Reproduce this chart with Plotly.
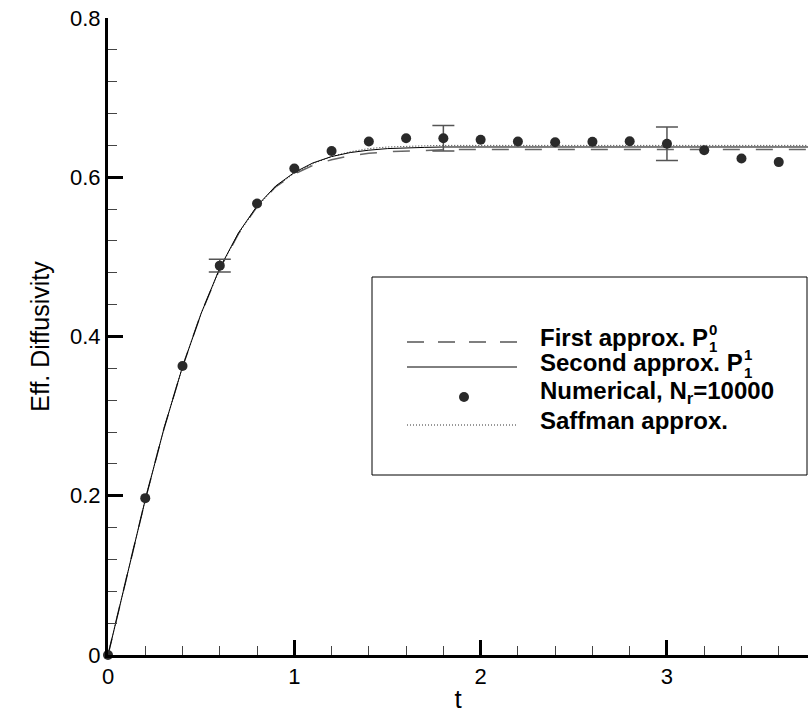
import plotly.graph_objects as go

# ---------------- data ----------------
t_curve = [0.0, 0.1, 0.2, 0.3, 0.4, 0.5, 0.6, 0.7, 0.8, 0.9, 1.0,
           1.1, 1.2, 1.3, 1.4, 1.5, 1.6, 1.7, 1.8, 2.0, 2.5, 3.0, 3.5, 3.76]
first_approx = [0.0, 0.099, 0.195, 0.284, 0.362, 0.429, 0.485, 0.529, 0.563, 0.588, 0.604,
                0.615, 0.622, 0.627, 0.630, 0.632, 0.633, 0.634, 0.6345, 0.635, 0.635, 0.635, 0.635, 0.635]
second_approx = [0.0, 0.099, 0.195, 0.284, 0.362, 0.429, 0.486, 0.530, 0.564, 0.589, 0.606,
                 0.618, 0.626, 0.631, 0.634, 0.636, 0.637, 0.6375, 0.638, 0.638, 0.638, 0.638, 0.638, 0.638]
saffman = [0.0, 0.099, 0.195, 0.284, 0.362, 0.429, 0.485, 0.529, 0.563, 0.588, 0.605,
           0.617, 0.626, 0.632, 0.636, 0.638, 0.639, 0.6395, 0.640, 0.640, 0.640, 0.640, 0.640, 0.640]

t_num = [0.0, 0.2, 0.4, 0.6, 0.8, 1.0, 1.2, 1.4, 1.6, 1.8, 2.0, 2.2, 2.4, 2.6, 2.8, 3.0, 3.2, 3.4, 3.6]
numerical = [0.0, 0.197, 0.363, 0.489, 0.567, 0.611, 0.633, 0.645, 0.649, 0.649, 0.647,
             0.645, 0.644, 0.6445, 0.6453, 0.642, 0.634, 0.6235, 0.619]

t_err = [0.6, 1.8, 3.0]
num_err = [0.489, 0.649, 0.642]
err_half = [0.008, 0.016, 0.021]

x_ticks = [0, 1, 2, 3]
y_ticks = [0, 0.2, 0.4, 0.6, 0.8]
y_tick_text = ["0", "0.2", "0.4", "0.6", "0.8"]

legend_labels = ["First approx. P", "Second approx. P", "Numerical, N<sub>r</sub>=10000", "Saffman approx."]
legend_sup = ["0", "1"]
legend_sub = ["1", "1"]

# ---------------- layout geometry ----------------
W, H = 810, 715
ML, MR, MT, MB = 108, 2, 18, 60
PW, PH = W - ML - MR, H - MT - MB


def px(xp):
    return (xp - ML) / PW


def py(yp):
    return (H - MB - yp) / PH


FONT = "Liberation Sans, Arial, sans-serif"

fig = go.Figure()

fig.add_trace(go.Scatter(x=t_curve, y=first_approx, mode="lines",
                         line=dict(color="#666666", width=1.5, dash="17px,16px"),
                         showlegend=False))
fig.add_trace(go.Scatter(x=t_curve, y=saffman, mode="lines",
                         line=dict(color="#333333", width=1, dash="1px,2px"),
                         showlegend=False))
fig.add_trace(go.Scatter(x=t_curve, y=second_approx, mode="lines",
                         line=dict(color="black", width=1),
                         showlegend=False))
fig.add_trace(go.Scatter(x=t_err, y=num_err, mode="markers",
                         marker=dict(size=0.1, color="rgba(0,0,0,0)"),
                         error_y=dict(type="data", array=err_half, visible=True,
                                      color="#555555", thickness=1.5, width=11),
                         showlegend=False))
fig.add_trace(go.Scatter(x=t_num, y=numerical, mode="markers",
                         marker=dict(size=10, color="#2a2a2a"),
                         showlegend=False, cliponaxis=False))

# ---------------- custom legend ----------------
box = dict(x0=372, x1=807, y0=277, y1=475)
fig.add_shape(type="rect", xref="paper", yref="paper",
              x0=px(box["x0"]), x1=px(box["x1"]), y0=py(box["y1"]), y1=py(box["y0"]),
              line=dict(color="black", width=1), fillcolor="white", layer="above")

rows = [342, 367, 397, 425]
sx0, sx1, sxc = 407, 517, 464
fig.add_shape(type="line", xref="paper", yref="paper", x0=px(sx0), x1=px(sx1),
              y0=py(rows[0]), y1=py(rows[0]), line=dict(color="#555555", width=1.5, dash="17px,14px"),
              layer="above")
fig.add_shape(type="line", xref="paper", yref="paper", x0=px(sx0), x1=px(sx1),
              y0=py(rows[1]), y1=py(rows[1]), line=dict(color="black", width=1), layer="above")
fig.add_shape(type="circle", xref="paper", yref="paper", x0=px(sxc - 5), x1=px(sxc + 5),
              y0=py(rows[2] + 5), y1=py(rows[2] - 5), line=dict(width=0), fillcolor="#2a2a2a",
              layer="above")
fig.add_shape(type="line", xref="paper", yref="paper", x0=px(sx0), x1=px(sx1),
              y0=py(rows[3]), y1=py(rows[3]), line=dict(color="#333333", width=1, dash="1px,2px"),
              layer="above")

text_x = 538
text_dy = -5
for lab, r in zip(legend_labels, rows):
    fig.add_annotation(x=px(text_x), y=py(r + text_dy), xref="paper", yref="paper",
                       text=lab, showarrow=False, xanchor="left", yanchor="middle",
                       font=dict(family=FONT, size=24, color="black", weight="bold"))

script_x = [707, 742]
for i in range(2):
    fig.add_annotation(x=px(script_x[i]), y=py(rows[i] - 13), xref="paper", yref="paper",
                       text=legend_sup[i], showarrow=False, xanchor="left", yanchor="middle",
                       font=dict(family=FONT, size=15, color="black", weight="bold"))
    fig.add_annotation(x=px(script_x[i]), y=py(rows[i] + 5), xref="paper", yref="paper",
                       text=legend_sub[i], showarrow=False, xanchor="left", yanchor="middle",
                       font=dict(family=FONT, size=15, color="black", weight="bold"))

axis_common = dict(showline=True, linecolor="black", linewidth=3, mirror=False,
                   showgrid=False, zeroline=False, ticks="inside", ticklen=15, tickwidth=3,
                   tickcolor="black", tickfont=dict(family=FONT, size=22, color="black"))

fig.update_xaxes(range=[0, 3.757], tickvals=x_ticks,
                 minor=dict(ticks="inside", ticklen=9, tickwidth=1, tickcolor="#444444", dtick=0.2,
                            showgrid=False),
                 title=dict(text="t", font=dict(family=FONT, size=26, color="black"), standoff=2),
                 **axis_common)
fig.update_yaxes(range=[0, 0.8], tickvals=y_ticks, ticktext=y_tick_text,
                 minor=dict(ticks="inside", ticklen=9, tickwidth=1, tickcolor="#444444", dtick=0.04,
                            showgrid=False),
                 title=dict(text="Eff. Diffusivity", font=dict(family=FONT, size=25, color="black"),
                            standoff=14),
                 **axis_common)

fig.update_layout(width=W, height=H, margin=dict(l=ML, r=MR, t=MT, b=MB),
                  paper_bgcolor="white", plot_bgcolor="white", showlegend=False)

fig.write_html("out.html")
